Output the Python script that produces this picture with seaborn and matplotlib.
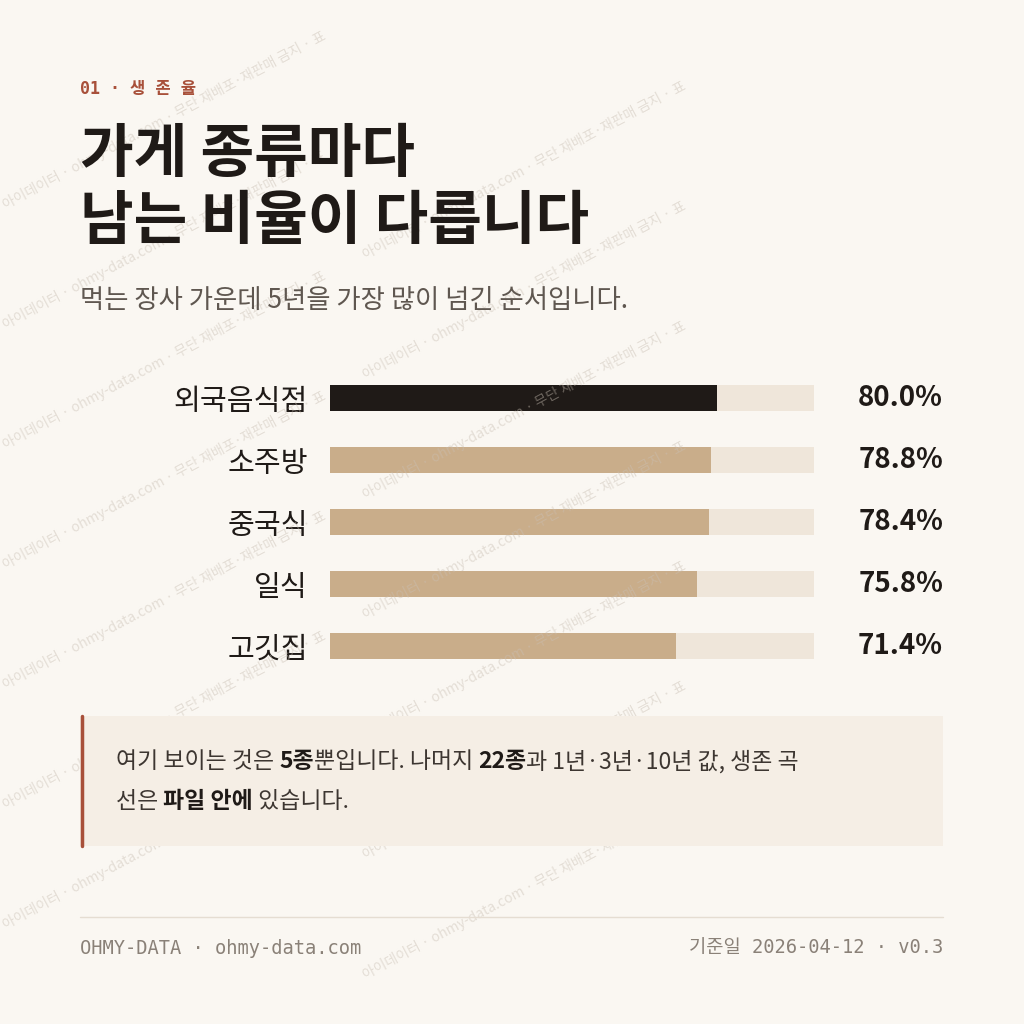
import matplotlib
matplotlib.use("Agg")
import matplotlib.pyplot as plt
import seaborn as sns
import pandas as pd
from matplotlib.patches import Rectangle
from matplotlib.lines import Line2D

categories = ["외국음식점", "소주방", "중국식", "일식", "고깃집"]
values = [80.0, 78.8, 78.4, 75.8, 71.4]
value_labels = ["80.0%", "78.8%", "78.4%", "75.8%", "71.4%"]
max_value = 100

BG = "#faf7f2"
TRACK = "#efe6da"
BAR = "#c9ad8a"
HIGHLIGHT = "#1f1a17"
ACCENT = "#a8503a"
INK = "#1f1a17"
GRAY = "#5f5750"
MUTED = "#8a8178"

sns.set_theme(style="white")
KR = ["Noto Sans CJK KR", "DejaVu Sans"]
MONO = ["DejaVu Sans Mono", "Noto Sans CJK KR"]
plt.rcParams["font.family"] = KR

fig = plt.figure(figsize=(10.24, 10.24), dpi=100, facecolor=BG)
renderer = fig.canvas.get_renderer()

def fx(px): return px / 1024
def fy(py): return 1 - py / 1024

# watermark (only tiles fully inside the picture)
wm = "아이데이터 · ohmy-data.com · 무단 재배포·재판매 금지 · 표"
for row in range(-4, 14):
    for col in range(-2, 5):
        x = col * 360
        y = row * 120 - col * 190
        t = fig.text(fx(x), fy(y), wm, rotation=28, fontsize=10, color="#c9bfb3",
                     alpha=0.45, ha="left", va="center", family=KR, zorder=0)
        bb = t.get_window_extent(renderer)
        if bb.x0 < 0 or bb.y0 < 0 or bb.x1 > 1024 or bb.y1 > 1024:
            t.remove()

# header
fig.text(fx(80), fy(89), "01 · 생 존 율", fontsize=12, color=ACCENT, family=MONO,
         va="center", ha="left", fontweight="bold")
fig.text(fx(80), fy(155), "가게 종류마다", fontsize=42, fontweight="bold", color=INK,
         va="center", ha="left")
fig.text(fx(80), fy(222), "남는 비율이 다릅니다", fontsize=42, fontweight="bold", color=INK,
         va="center", ha="left")
fig.text(fx(80), fy(300), "먹는 장사 가운데 5년을 가장 많이 넘긴 순서입니다.", fontsize=19,
         color=GRAY, va="center", ha="left")

# bars
ax = fig.add_axes([fx(330), fy(677), fx(484), 310 / 1024])
ax.set_facecolor("none")
df = pd.DataFrame({"category": categories, "value": values,
                   "track": [max_value] * len(values)})
sns.barplot(data=df, y="category", x="track", color=TRACK, width=0.42, ax=ax,
            orient="h", saturation=1, linewidth=0)
sns.barplot(data=df, y="category", x="value", hue="category",
            palette=[HIGHLIGHT] + [BAR] * (len(categories) - 1), width=0.42, ax=ax,
            orient="h", saturation=1, legend=False, linewidth=0)
ax.set_xlim(0, max_value)
ax.set_ylim(4.5, -0.5)
ax.set_xlabel(""); ax.set_ylabel("")
ax.set_xticks([])
ax.tick_params(axis="y", length=0, pad=16, labelsize=21, labelcolor=INK)
for s in ax.spines.values():
    s.set_visible(False)
for i, lab in enumerate(value_labels):
    ax.text(1 + 129 / 484, i, lab, transform=ax.get_yaxis_transform(), ha="right",
            va="center", fontsize=20, fontweight="bold", color=INK)

# callout
fig.patches.append(Rectangle((fx(80), fy(846)), fx(863), 130 / 1024,
                             transform=fig.transFigure, facecolor="#f5eee5",
                             edgecolor="none", zorder=1))
fig.lines.append(Line2D([fx(81.5), fx(81.5)], [fy(716), fy(846)], transform=fig.transFigure,
                        color=ACCENT, lw=2.5, zorder=2))

def chain(x, y, parts, size=16.5):
    cur = x
    for txt, bold in parts:
        t = fig.text(fx(cur), fy(y), txt, fontsize=size, color=INK if bold else "#3d3631",
                     fontweight="bold" if bold else "normal", va="center", ha="left", zorder=3)
        bb = t.get_window_extent(renderer)
        cur += bb.width

chain(116, 762, [("여기 보이는 것은 ", False), ("5종", True), ("뿐입니다. 나머지 ", False),
                 ("22종", True), ("과 1년·3년·10년 값, 생존 곡", False)])
chain(116, 802, [("선은 ", False), ("파일 안에", True), (" 있습니다.", False)])

# footer
fig.lines.append(Line2D([fx(80), fx(943)], [fy(917), fy(917)], transform=fig.transFigure,
                        color="#e5ddd2", lw=1))
fig.text(fx(80), fy(948), "OHMY-DATA · ohmy-data.com", fontsize=13.5, color=MUTED,
         family=MONO, va="center", ha="left")
fig.text(fx(943), fy(948), "기준일 2026-04-12 · v0.3", fontsize=13.5, color=MUTED,
         family=MONO, va="center", ha="right")

fig.savefig("out.png", dpi=100, facecolor=BG)
